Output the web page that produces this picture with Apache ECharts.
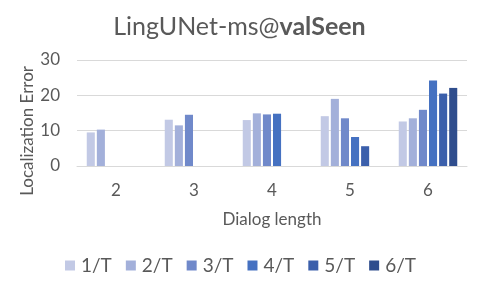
<!DOCTYPE html>
<html><head><meta charset="utf-8">
<script src="https://cdn.jsdelivr.net/npm/echarts@6/dist/echarts.min.js"></script>
<style>html,body{margin:0;padding:0;background:#fff}#c{width:479px;height:285px}</style>
</head><body><div id="c"></div>
<script>
var categories = ['2', '3', '4', '5', '6'];
var seriesNames = ['1/T', '2/T', '3/T', '4/T', '5/T', '6/T'];
var s1 = [9.5, 13.1, 13.0, 14.1, 12.6];
var s2 = [10.3, 11.5, 14.9, 19.0, 13.5];
var s3 = [null, 14.5, 14.6, 13.5, 15.9];
var s4 = [null, null, 14.8, 8.2, 24.2];
var s5 = [null, null, null, 5.6, 20.5];
var s6 = [null, null, null, null, 22.1];
var yTicks = [0, 10, 20, 30];
var colors = ['#c2c9e5', '#a3b0da', '#7089ca', '#4571c1', '#3b5fab', '#2f4d8d'];
var allData = [s1, s2, s3, s4, s5, s6];
var font = 'Lato, Carlito, "Open Sans", sans-serif';
var chart = echarts.init(document.getElementById('c'), null, {renderer: 'canvas'});
chart.setOption({
  animation: false,
  color: colors,
  title: {
    text: '{n|LingUNet-ms@}{b|valSeen}',
    left: 'center', top: 9,
    textStyle: {
      fontWeight: 'normal',
      rich: {
        n: {fontFamily: font, fontSize: 25, fontWeight: 'normal', color: '#595959'},
        b: {fontFamily: font, fontSize: 25, fontWeight: 'bold', color: '#595959'}
      }
    }
  },
  grid: {left: 77, right: 12, top: 60, bottom: 119, containLabel: false},
  legend: {
    data: seriesNames, top: 251, left: 60,
    itemWidth: 10, itemHeight: 10, itemGap: 14, icon: 'rect',
    textStyle: {fontFamily: font, fontSize: 19, color: '#595959', padding: [0, 0, 0, 1]}
  },
  xAxis: {
    type: 'category', data: categories,
    name: 'Dialog length', nameLocation: 'middle', nameGap: 45,
    nameTextStyle: {fontFamily: font, fontSize: 17, color: '#595959'},
    axisLine: {lineStyle: {color: '#d9d9d9'}},
    axisTick: {show: false},
    axisLabel: {fontFamily: font, fontSize: 17, color: '#595959', margin: 16}
  },
  yAxis: {
    type: 'value', min: yTicks[0], max: yTicks[yTicks.length - 1], interval: 10,
    axisLine: {show: false}, axisTick: {show: false},
    splitLine: {lineStyle: {color: '#d9d9d9'}},
    axisLabel: {fontFamily: font, fontSize: 17, color: '#595959', margin: 17}
  },
  graphic: [{
    type: 'text', left: 19, top: 66, rotation: Math.PI / 2,
    style: {text: 'Localization Error', fontFamily: font, fontSize: 17, fill: '#595959'}
  }],
  series: seriesNames.map(function (n, i) {
    return {
      name: n, type: 'bar', data: allData[i],
      barGap: '25%', barCategoryGap: '25%'
    };
  })
});
</script></body></html>
